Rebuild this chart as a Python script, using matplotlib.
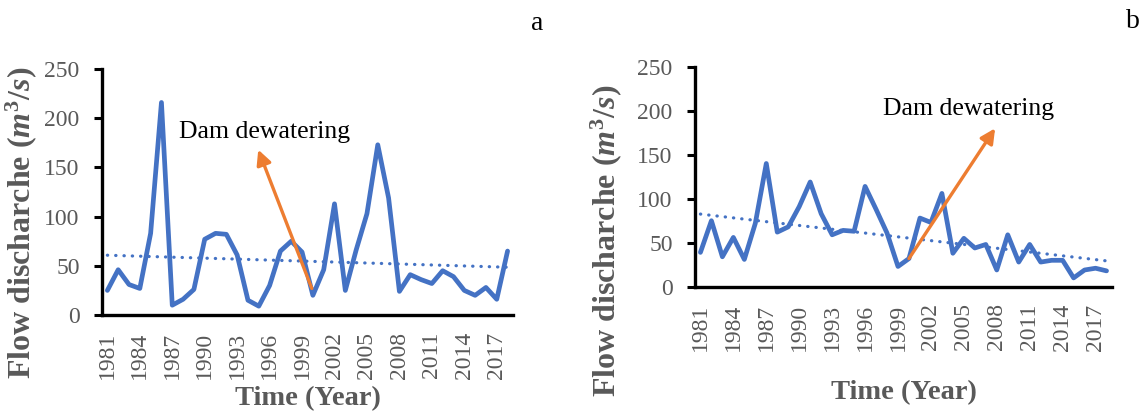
import numpy as np
import matplotlib.pyplot as plt

plt.rcParams['font.family'] = ['Liberation Serif', 'DejaVu Serif']
plt.rcParams['mathtext.fontset'] = 'custom'
plt.rcParams['mathtext.rm'] = 'Liberation Serif:bold'
plt.rcParams['mathtext.it'] = 'Liberation Serif:italic:bold'

years = np.arange(1981, 2019)
tick_years = np.arange(1981, 2019, 3)

# station a, annual flow (m3/s)
flow_a = [25, 46, 31, 27, 83, 216, 10, 16, 26, 77,
          83, 82, 61, 15, 9, 30, 65, 75, 64, 20,
          46, 113, 25, 66, 103, 173, 119, 24, 41, 36,
          32, 45, 39, 25, 20, 28, 16, 65]

# station b, annual flow (m3/s)
flow_b = [39, 75, 34, 56, 31, 72, 140, 62, 68, 91,
          119, 83, 59, 64, 63, 114, 88, 61, 23, 32,
          78, 73, 106, 38, 55, 44, 48, 19, 59, 28,
          48, 28, 30, 30, 10, 19, 21, 18]

blue = '#4472C4'
orange = '#ED7D31'
grey = '#595959'

fig = plt.figure(figsize=(11.43, 4.12), dpi=100)
ax_a = fig.add_axes([0.0892, 0.2354, 0.3596, 0.5971])
ax_b = fig.add_axes([0.6080, 0.3041, 0.3649, 0.5340])


def draw_panel(ax, flow):
    ax.plot(years, flow, color=blue, lw=3.4, solid_joinstyle='round',
            solid_capstyle='round', zorder=3)
    k, c = np.polyfit(years, flow, 1)
    ax.plot(years, k * years + c, color=blue, lw=2.3,
            linestyle=(0, (0.1, 2.5)), dash_capstyle='round', zorder=2)
    ax.set_xlim(1980.5, 2018.5)
    ax.set_ylim(0, 250)
    ax.set_yticks(range(0, 251, 50))
    ax.set_xticks(tick_years)
    ax.set_xticklabels([str(y) for y in tick_years], rotation=90)
    for side in ('top', 'right'):
        ax.spines[side].set_visible(False)
    for side in ('left', 'bottom'):
        ax.spines[side].set_linewidth(2.4)
    ax.tick_params(axis='y', direction='out', length=6, width=2.2,
                   labelsize=17, labelcolor=grey, pad=10)
    ax.tick_params(axis='x', length=0, labelsize=17, labelcolor=grey, pad=12)
    ax.set_ylabel(r'Flow discharche ($m^3/s$)', fontsize=23,
                  fontweight='bold', color=grey)
    ax.set_xlabel('Time (Year)', fontsize=20.5, fontweight='bold', color=grey)


draw_panel(ax_a, flow_a)
draw_panel(ax_b, flow_b)

ax_a.yaxis.set_label_coords(-0.152, 0.374)
ax_a.xaxis.set_label_coords(0.5, -0.29)
ax_b.yaxis.set_label_coords(-0.17, 0.21)
ax_b.xaxis.set_label_coords(0.5, -0.424)

# dewatering arrows
ax_a.annotate('', xy=(1994.95, 168), xytext=(1999.9, 27),
              arrowprops=dict(arrowstyle='-|>', color=orange, lw=2.4,
                              mutation_scale=22, shrinkA=0, shrinkB=0),
              zorder=4)
ax_a.text(1987.6, 180, 'Dam dewatering', fontsize=18.5, va='baseline', ha='left')

ax_b.annotate('', xy=(2007.85, 180), xytext=(2000.0, 32),
              arrowprops=dict(arrowstyle='-|>', color=orange, lw=2.4,
                              mutation_scale=22, shrinkA=0, shrinkB=0),
              zorder=4)
ax_b.text(1997.6, 195, 'Dam dewatering', fontsize=18.5, va='baseline', ha='left')

fig.text(537 / 1143, 1 - 24 / 412, 'a', fontsize=20, ha='center', va='center')
fig.text(1133 / 1143, 1 - 22 / 412, 'b', fontsize=20, ha='center', va='center')

fig.savefig('out.png', dpi=100)
